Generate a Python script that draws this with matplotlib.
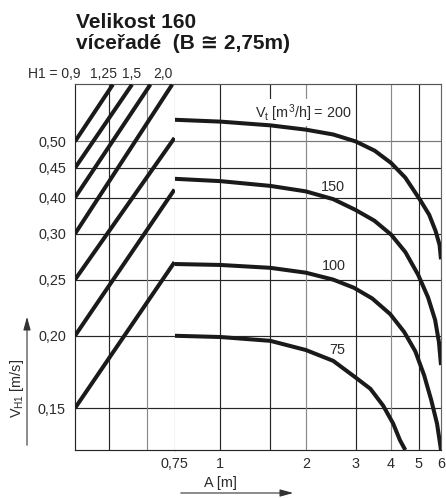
import numpy as np
import matplotlib
matplotlib.use('Agg')
import matplotlib.pyplot as plt
from matplotlib.patches import FancyArrowPatch
from matplotlib.ticker import FixedLocator, NullLocator, FixedFormatter

plt.rcParams['font.family'] = ['Liberation Sans', 'DejaVu Sans']
plt.rcParams['mathtext.fontset'] = 'custom'
plt.rcParams['mathtext.rm'] = 'Liberation Sans'
plt.rcParams['mathtext.it'] = 'Liberation Sans:italic'
plt.rcParams['mathtext.bf'] = 'Liberation Sans:bold'

# ---------------- data ----------------
y_ticks = [0.15, 0.20, 0.25, 0.30, 0.40, 0.45, 0.50]
y_tick_labels = ['0,15', '0,20', '0,25', '0,30', '0,40', '0,45', '0,50']
y_grid_dark = [True, True, True, True, True, True, False]

x_ticks = [0.75, 1, 2, 3, 4, 5, 6]
x_tick_labels = ['0,75', '1', '2', '3', '4', '5', '6']
x_grid = [1, 1.5, 2, 3, 4, 5]
x_grid_dark = [True, True, False, True, False, True]

# left panel (H1 conversion lines), panel position 0..1
h1_labels = ['H1 = 0,9', '1,25', '1,5', '2,0']
h1_grid = [0.343, 0.724]
h1_grid_dark = [True, False]
diag_v_start = [0.50, 0.45, 0.40, 0.30, 0.25, 0.20, 0.15]
diag_x_end = [0.381, 0.573, 0.758, 0.977, 1.0, 1.0, 1.0]
diag_v_end = [0.627, 0.627, 0.627, 0.627, 0.507, 0.413, 0.268]

# flow curves Vt [m3/h]
a_200 = [0.75, 1.0, 1.5, 2.0, 2.5, 3.0, 3.5, 4.0, 4.49, 5.06, 5.45, 5.74, 5.93, 6.0]
v_200 = [0.545, 0.541, 0.533, 0.524, 0.514, 0.500, 0.482, 0.459, 0.433, 0.393, 0.349, 0.307, 0.287, 0.271]

a_150 = [0.75, 1.0, 1.5, 2.0, 2.5, 2.99, 3.49, 4.0, 4.49, 4.98, 5.40, 5.72, 5.90, 6.0]
v_150 = [0.431, 0.427, 0.419, 0.410, 0.395, 0.363, 0.333, 0.299, 0.279, 0.255, 0.233, 0.213, 0.195, 0.178]

a_100 = [0.75, 1.0, 1.5, 2.0, 2.5, 2.96, 3.43, 3.97, 4.45, 4.87, 5.23, 5.54, 5.81, 6.0]
v_100 = [0.266, 0.265, 0.262, 0.257, 0.250, 0.242, 0.232, 0.218, 0.203, 0.188, 0.171, 0.155, 0.141, 0.127]

a_75 = [0.75, 1.0, 1.5, 2.0, 2.5, 2.97, 3.38, 3.75, 4.07, 4.30, 4.49]
v_75 = [0.200, 0.199, 0.196, 0.189, 0.181, 0.170, 0.162, 0.1515, 0.141, 0.132, 0.127]

curves = [(a_200, v_200), (a_150, v_150), (a_100, v_100), (a_75, v_75)]

# ---------------- nomogram scales ----------------
LN03 = np.log(0.3)
GAP = np.log(4 / 3)


def yf(v):
    l = np.log(np.clip(np.asarray(v, float), 1e-9, None))
    return l - 0.5 * np.clip(l - LN03, 0, GAP)


def yi(f):
    f = np.asarray(f, float)
    return np.where(f <= LN03, np.exp(f),
                    np.where(f <= LN03 + 0.5 * GAP, np.exp(LN03 + 2 * (f - LN03)),
                             np.exp(f + 0.5 * GAP)))


K = 1.297


def xf(a):
    l = np.log(np.clip(np.asarray(a, float), 1e-9, None))
    return np.where(l < 0, K * l, l)


def xi(f):
    f = np.asarray(f, float)
    return np.where(f < 0, np.exp(f / K), np.exp(f))


DARK = '#262626'
GRAY = '#8a8a8a'
TXT = '#2b2b2b'
LW_GRID = 0.85
LW_CURVE = 2.9

fig = plt.figure(figsize=(4.46, 4.98), dpi=100)
W, H = 446, 498
bot = (H - 450) / H
hgt = 365.5 / H
axL = fig.add_axes([75 / W, bot, 99.5 / W, hgt])
axR = fig.add_axes([174.5 / W, bot, 266.5 / W, hgt], sharey=axL)

for ax in (axL, axR):
    ax.set_yscale('function', functions=(yf, yi))
    ax.set_ylim(0.127, 0.627)
    for v, d in zip(y_ticks, y_grid_dark):
        ax.axhline(v, color=DARK if d else '#777777', lw=LW_GRID, zorder=1)

axL.set_xlim(0, 1)
axR.set_xscale('function', functions=(xf, xi))
axR.set_xlim(0.75, 6.0)

# ticks
axL.yaxis.set_major_locator(FixedLocator(y_ticks))
axL.yaxis.set_major_formatter(FixedFormatter(y_tick_labels))
axL.yaxis.set_minor_locator(NullLocator())
axL.tick_params(axis='y', length=0, pad=6.5, labelsize=10.4, labelcolor=TXT)
axL.set_xticks([])
axR.xaxis.set_major_locator(FixedLocator(x_ticks))
axR.xaxis.set_major_formatter(FixedFormatter(x_tick_labels))
axR.xaxis.set_minor_locator(NullLocator())
axR.tick_params(axis='x', length=0, pad=5, labelsize=10.4, labelcolor=TXT)
axR.tick_params(axis='y', which='both', left=False, labelleft=False)

# vertical grids
for x, d in zip(h1_grid, h1_grid_dark):
    axL.axvline(x, color=DARK if d else GRAY, lw=LW_GRID, zorder=1)
for x, d in zip(x_grid, x_grid_dark):
    axR.axvline(x, color=DARK if d else GRAY, lw=LW_GRID, zorder=1)

# spines
axL.spines['left'].set_color(DARK)
axL.spines['bottom'].set_color(DARK)
axL.spines['top'].set_color('#555555')
axL.spines['right'].set_color(GRAY)
axR.spines['left'].set_visible(False)
axR.spines['top'].set_color('#555555')
axR.spines['right'].set_color('#666666')
axR.spines['bottom'].set_color(DARK)
for ax in (axL, axR):
    for s in ax.spines.values():
        s.set_linewidth(LW_GRID)

# diagonal H1 lines
for v0, xe, ve in zip(diag_v_start, diag_x_end, diag_v_end):
    axL.plot([0, xe], [v0, ve], color='#1a1a1a', lw=LW_CURVE,
             solid_capstyle='butt', zorder=4, clip_on=True)

# flow curves
for a, v in curves:
    axR.plot(a, v, color='#1a1a1a', lw=LW_CURVE, solid_capstyle='butt',
             solid_joinstyle='round', zorder=4)

# curve labels
box = dict(facecolor='white', edgecolor='none', pad=2.0)
axR.text(1.96, 0.560, r'V$_{\mathrm{t}}$ [m$^{3}$/h] = 200', ha='center', va='center',
         fontsize=10.4, color=TXT, bbox=box, zorder=3)
axR.text(2.50, 0.417, '150', ha='center', va='center', fontsize=10.4, color=TXT,
         bbox=box, zorder=3)
axR.text(2.52, 0.264, '100', ha='center', va='center', fontsize=10.4, color=TXT,
         bbox=box, zorder=3)
axR.text(2.59, 0.189, '75', ha='center', va='center', fontsize=10.4, color=TXT,
         bbox=box, zorder=3)

# titles
fig.text(76 / W, 1 - 27.5 / H, 'Velikost 160', fontsize=15, fontweight='bold',
         color='#1a1a1a', ha='left', va='baseline')
fig.text(76 / W, 1 - 49 / H, 'víceřadé  (B ≅ 2,75m)', fontsize=15, fontweight='bold',
         color='#1a1a1a', ha='left', va='baseline')

# H1 labels
for lab, xpx in zip(h1_labels, [28, 90, 122, 153]):
    fig.text(xpx / W, 1 - 78 / H, lab, fontsize=10, color=TXT, ha='left', va='baseline')

# axis labels
fig.text(220 / W, 1 - 483 / H, 'A [m]', fontsize=10.4, color=TXT, ha='center', va='center')
fig.text(17 / W, 1 - 388 / H, r'V$_{\mathrm{H1}}$ [m/s]', fontsize=10.4, color=TXT,
         ha='center', va='center', rotation=90)

# arrows
fig.add_artist(FancyArrowPatch((178 / W, 1 - 493 / H), (296 / W, 1 - 493 / H),
                               transform=fig.transFigure,
                               arrowstyle='-|>,head_length=0.8,head_width=0.22',
                               mutation_scale=10, lw=0.8, color='#333333'))
fig.add_artist(FancyArrowPatch((27 / W, 1 - 448 / H), (27 / W, 1 - 314 / H),
                               transform=fig.transFigure,
                               arrowstyle='-|>,head_length=0.8,head_width=0.22',
                               mutation_scale=10, lw=0.8, color='#333333'))

fig.savefig('out.png', dpi=100)
